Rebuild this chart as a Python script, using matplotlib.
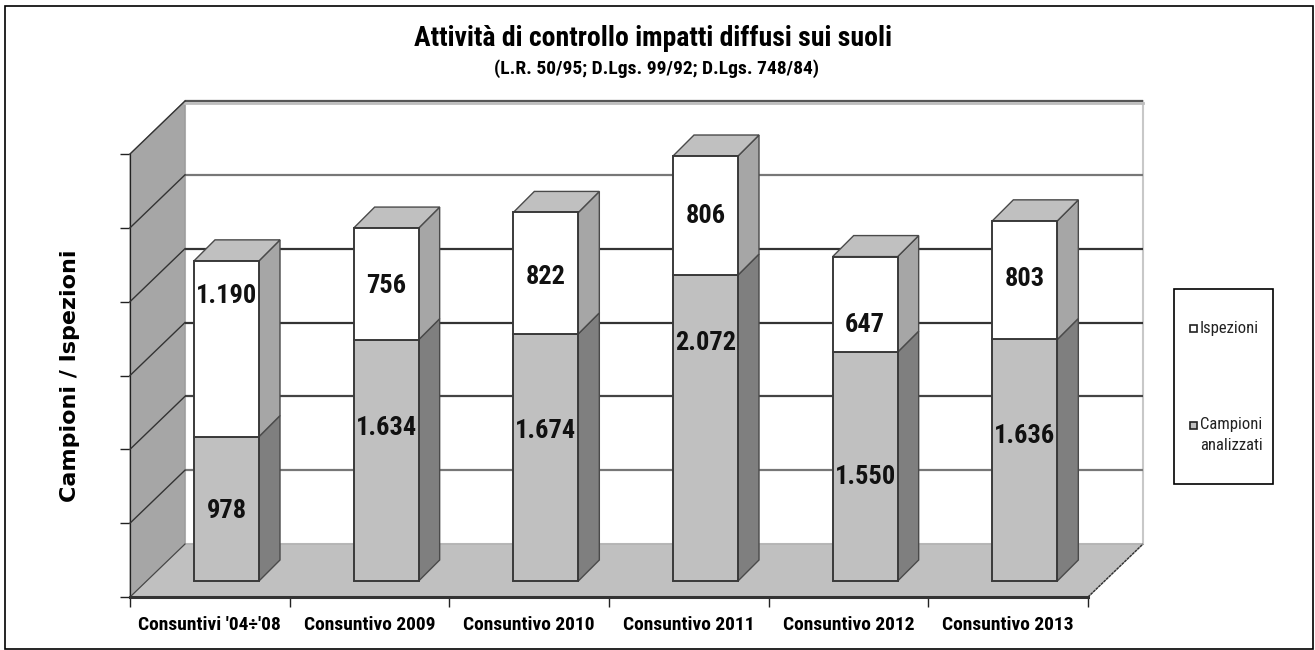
import matplotlib
matplotlib.use('Agg')
import matplotlib.pyplot as plt
from matplotlib.patches import Polygon, Rectangle
from matplotlib import font_manager as fm

categorie = ["Consuntivi '04÷'08", 'Consuntivo 2009', 'Consuntivo 2010',
             'Consuntivo 2011', 'Consuntivo 2012', 'Consuntivo 2013']
campioni = [978, 1634, 1674, 2072, 1550, 1636]
ispezioni = [1190, 756, 822, 806, 647, 803]
etichette_campioni = ['978', '1.634', '1.674', '2.072', '1.550', '1.636']
etichette_ispezioni = ['1.190', '756', '822', '806', '647', '803']
tacche_y = [0, 500, 1000, 1500, 2000, 2500, 3000]

# layout, in pixel
W, H = 1315, 650
LEFT, RIGHT, BOTTOM, TOP = 130, 1088, 597, 154
PX = 6 / (RIGHT - LEFT)
PY = 3000 / (BOTTOM - TOP)
y_campioni_px = [511, 428, 431, 343, 477, 436]
y_ispezioni_px = [296, 286, 277, 216, 325, 279]

# font stretto se c'e, altrimenti Liberation Sans
grassetti = set(f.name for f in fm.fontManager.ttflist if f.weight in (700, 'bold'))
NARROW = 'Liberation Sans'
for nome in ['Liberation Sans Narrow', 'Roboto Condensed', 'PT Sans Narrow', 'Fira Sans Condensed']:
    if nome in grassetti:
        NARROW = nome
        break
plt.rcParams['font.family'] = [NARROW, 'DejaVu Sans']

fig = plt.figure(figsize=(W / 100, H / 100), dpi=100)
ax = fig.add_axes([LEFT / W, 1 - BOTTOM / H, (RIGHT - LEFT) / W, (BOTTOM - TOP) / H])
ax.set_xlim(0, 6)
ax.set_ylim(0, 3000)
ax.patch.set_visible(False)

# profondita del grafico
dx, dy = 55 * PX, 53 * PY
back = Polygon([(dx, dy), (6 + dx, dy), (6 + dx, 3000 + dy), (dx, 3000 + dy)],
               fc='white', ec='#c8c8c8', lw=1.5, clip_on=False, zorder=1)
floor = Polygon([(0, 0), (6, 0), (6 + dx, dy), (dx, dy)], fc='#c0c0c0', ec='#b0b0b0',
                lw=1, clip_on=False, zorder=2)
wall = Polygon([(0, 0), (dx, dy), (dx, 3000 + dy), (0, 3000)], fc='#a6a6a6', ec='#999999',
               lw=0.8, clip_on=False, zorder=2)
ax.add_patch(back)
ax.add_patch(floor)
ax.add_patch(wall)
ax.plot([6, 6 + dx], [0, dy], color='#333333', lw=1, ls=(0, (2, 0.6)), clip_on=False, zorder=3)

griglia = ['#777777', '#444444', '#333333', '#333333', '#777777', '#555555']
for v, c in zip(tacche_y[1:], griglia):
    ax.plot([dx, 6 + dx], [v + dy, v + dy], color=c, lw=1.6, clip_on=False, zorder=2,
            solid_capstyle='butt')
    ax.plot([0, dx], [v, v + dy], color='#333333', lw=1, clip_on=False, zorder=3)
ax.plot([dx, 6 + dx], [3000 + dy - 2.5 * PY] * 2, color='#bdbdbd', lw=2, clip_on=False, zorder=2)
ax.plot([0, dx], [0, dy], color='#444444', lw=0.8, clip_on=False, zorder=3)

# barre 3D
bw = 65 * PX
bx0 = 64 * PX
off_y = 16 * PY
ddx, ddy = 21 * PX, 21 * PY
EDGE = '#3a3a3a'


def segmento(x, y0, y1, front, side):
    ax.add_patch(Polygon([(x + bw, y0), (x + bw + ddx, y0 + ddy), (x + bw + ddx, y1 + ddy), (x + bw, y1)],
                         fc=side, ec='#4a4a4a', lw=1, clip_on=False, zorder=5))
    ax.add_patch(Rectangle((x, y0), bw, y1 - y0, fc=front, ec=EDGE, lw=1.4, clip_on=False, zorder=6))


for i in range(len(categorie)):
    x = i + bx0
    v1 = campioni[i] + off_y
    v2 = v1 + ispezioni[i]
    segmento(x, off_y, v1, '#c0c0c0', '#7f7f7f')
    segmento(x, v1, v2, 'white', '#a6a6a6')
    ax.add_patch(Polygon([(x, v2), (x + bw, v2), (x + bw + ddx, v2 + ddy), (x + ddx, v2 + ddy)],
                         fc='#c0c0c0', ec='#4a4a4a', lw=1, clip_on=False, zorder=5))
    xc = x + bw / 2
    ax.text(xc, (BOTTOM - y_campioni_px[i]) * PY, etichette_campioni[i], ha='center', va='center',
            fontsize=19, fontweight='bold', color='#111111', zorder=8, clip_on=False)
    ax.text(xc, (BOTTOM - y_ispezioni_px[i]) * PY, etichette_ispezioni[i], ha='center', va='center',
            fontsize=19, fontweight='bold', color='#111111', zorder=8, clip_on=False)

# assi
for s in ['top', 'right']:
    ax.spines[s].set_visible(False)
ax.spines['left'].set_linewidth(0.9)
ax.spines['left'].set_color('#222222')
ax.spines['bottom'].set_linewidth(2.2)
ax.spines['bottom'].set_color('#333333')
ax.spines['bottom'].set_zorder(4)
ax.set_yticks(tacche_y)
ax.set_yticklabels([])
ax.set_xticks(range(7))
ax.set_xticklabels([])
ax.set_xticks([i + 0.5 for i in range(6)], categorie, minor=True, fontsize=14, fontweight='bold')
ax.tick_params(axis='both', which='major', length=7, width=1, color='#222222')
ax.tick_params(axis='x', which='minor', length=0, pad=14)

# titoli
fig.text(653 / W, 1 - 38 / H, 'Attività di controllo impatti diffusi sui suoli', ha='center', va='center',
         fontsize=20, fontweight='bold')
fig.text(657 / W, 1 - 69 / H, '(L.R. 50/95; D.Lgs. 99/92; D.Lgs. 748/84)', ha='center', va='center',
         fontsize=14, fontweight='bold')
fig.text(70 / W, 1 - 376 / H, 'Campioni / Ispezioni', rotation=90, ha='center', va='center',
         fontsize=16, fontweight='bold', family='DejaVu Sans')

# legenda
fig.add_artist(Rectangle((1174 / W, 1 - 484 / H), 99 / W, 195 / H, transform=fig.transFigure,
                         fc='white', ec='black', lw=1.2))
for testo, colore, y_px in [('Ispezioni', 'white', 328), ('Campioni', '#c0c0c0', 425)]:
    fig.add_artist(Rectangle((1190 / W, 1 - (y_px + 3.5) / H), 7 / W, 7 / H, transform=fig.transFigure,
                             fc=colore, ec='#222222', lw=1.2))
    fig.text(1200 / W, 1 - y_px / H, testo, ha='left', va='center', fontsize=12, color='#222222')
fig.text(1200 / W, 1 - 446 / H, 'analizzati', ha='left', va='center', fontsize=12, color='#222222')

# cornice esterna
fig.add_artist(Rectangle((5 / W, 1 - 649 / H), 1308 / W, 643 / H, transform=fig.transFigure,
                         fc='none', ec='black', lw=1.2))

fig.savefig('out.png', dpi=100, facecolor='white')
